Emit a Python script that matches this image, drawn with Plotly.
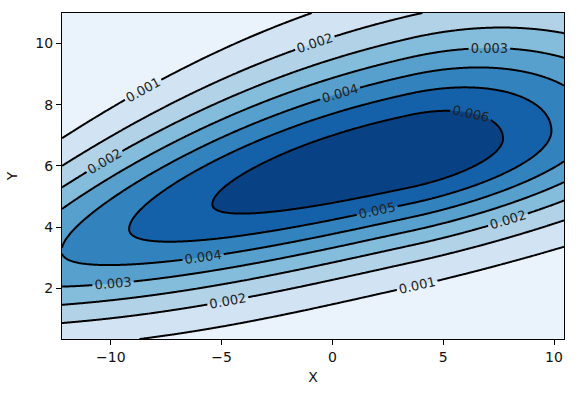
import numpy as np
import plotly.graph_objects as go

# ---- axes ----
x_range = [-12.2, 10.45]
y_range = [0.34, 11.0]
x_ticks = [-10, -5, 0, 5, 10]
y_ticks = [2, 4, 6, 8, 10]
x_title = "X"
y_title = "Y"

# ---- contour levels (labels read 0.001 ... 0.006, 7 lines) ----
level_start = 0.0008
level_end = 0.0056
level_step = 0.0008

# ---- band colours (Blues, one per filled band, lowest first) ----
band_colors = ["#eaf3fb", "#d2e3f3", "#b2d2e8", "#84bcdb",
               "#57a0ce", "#3282be", "#1561a9", "#084184"]

# ---- density surface, estimated from the contour positions ----
ridge_x = [-12.2, -8.8, -4.2, -0.7, 4.0, 10.45]      # x positions of the read-off profiles
ridge_mode_y = [3.25, 4.0, 4.95, 5.6, 6.5, 7.17]     # y of the ridge crest
spread_up = [2.1, 2.28, 2.47, 2.62, 2.95, 2.7]       # spread above the crest
spread_down = [1.7, 2.03, 2.04, 2.05, 2.17, 2.05]    # spread below the crest
peak_x = 3.5
peak_density = 0.0063
left_scale, left_power = 21.9, 2.38
right_scale, right_power = 12.24, 2.0

# ---- build grid ----
xs = np.linspace(x_range[0], x_range[1], 420)
ys = np.linspace(y_range[0], y_range[1], 320)
X, Y = np.meshgrid(xs, ys)

mode = np.polyval(np.polyfit(ridge_x, ridge_mode_y, 2), X)
s_up = np.polyval(np.polyfit(ridge_x, spread_up, 2), X)
s_dn = np.polyval(np.polyfit(ridge_x, spread_down, 3), X)
d = X - peak_x
crest = np.where(d < 0,
                 peak_density * np.exp(-(np.abs(d) / left_scale) ** left_power),
                 peak_density * np.exp(-(np.abs(d) / right_scale) ** right_power))
s = np.where(Y > mode, s_up, s_dn)
Z = crest * np.exp(-0.5 * ((Y - mode) / s) ** 2)

n_bands = len(band_colors)
colorscale = [[i / (n_bands - 1), c] for i, c in enumerate(band_colors)]

font_family = "DejaVu Sans"

fig = go.Figure(go.Contour(
    x=xs, y=ys, z=Z,
    colorscale=colorscale,
    showscale=False,
    contours=dict(start=level_start, end=level_end, size=level_step,
                  coloring="fill", showlabels=True,
                  labelformat=".3f",
                  labelfont=dict(family=font_family, size=13, color="#222222")),
    line=dict(color="black", width=2),
    hoverinfo="skip",
))

axis_common = dict(
    ticks="outside", ticklen=5, tickwidth=1, tickcolor="black",
    showline=True, linecolor="black", linewidth=1, mirror=True,
    showgrid=False, zeroline=False,
    tickfont=dict(family=font_family, size=14, color="#111111"),
)

fig.update_layout(
    width=581, height=394,
    margin=dict(l=62, r=17, t=13, b=55),
    paper_bgcolor="white", plot_bgcolor="white",
    xaxis=dict(range=x_range, tickvals=x_ticks,
               title=dict(text=x_title, font=dict(family=font_family, size=14, color="#111111"), standoff=8),
               **axis_common),
    yaxis=dict(range=y_range, tickvals=y_ticks,
               title=dict(text=y_title, font=dict(family=font_family, size=14, color="#111111"), standoff=14),
               **axis_common),
    showlegend=False,
)

fig.write_html("out.html",
               config={"displayModeBar": False, "staticPlot": True},
               post_script="document.body.style.margin='0px';document.body.style.overflow='hidden';")
